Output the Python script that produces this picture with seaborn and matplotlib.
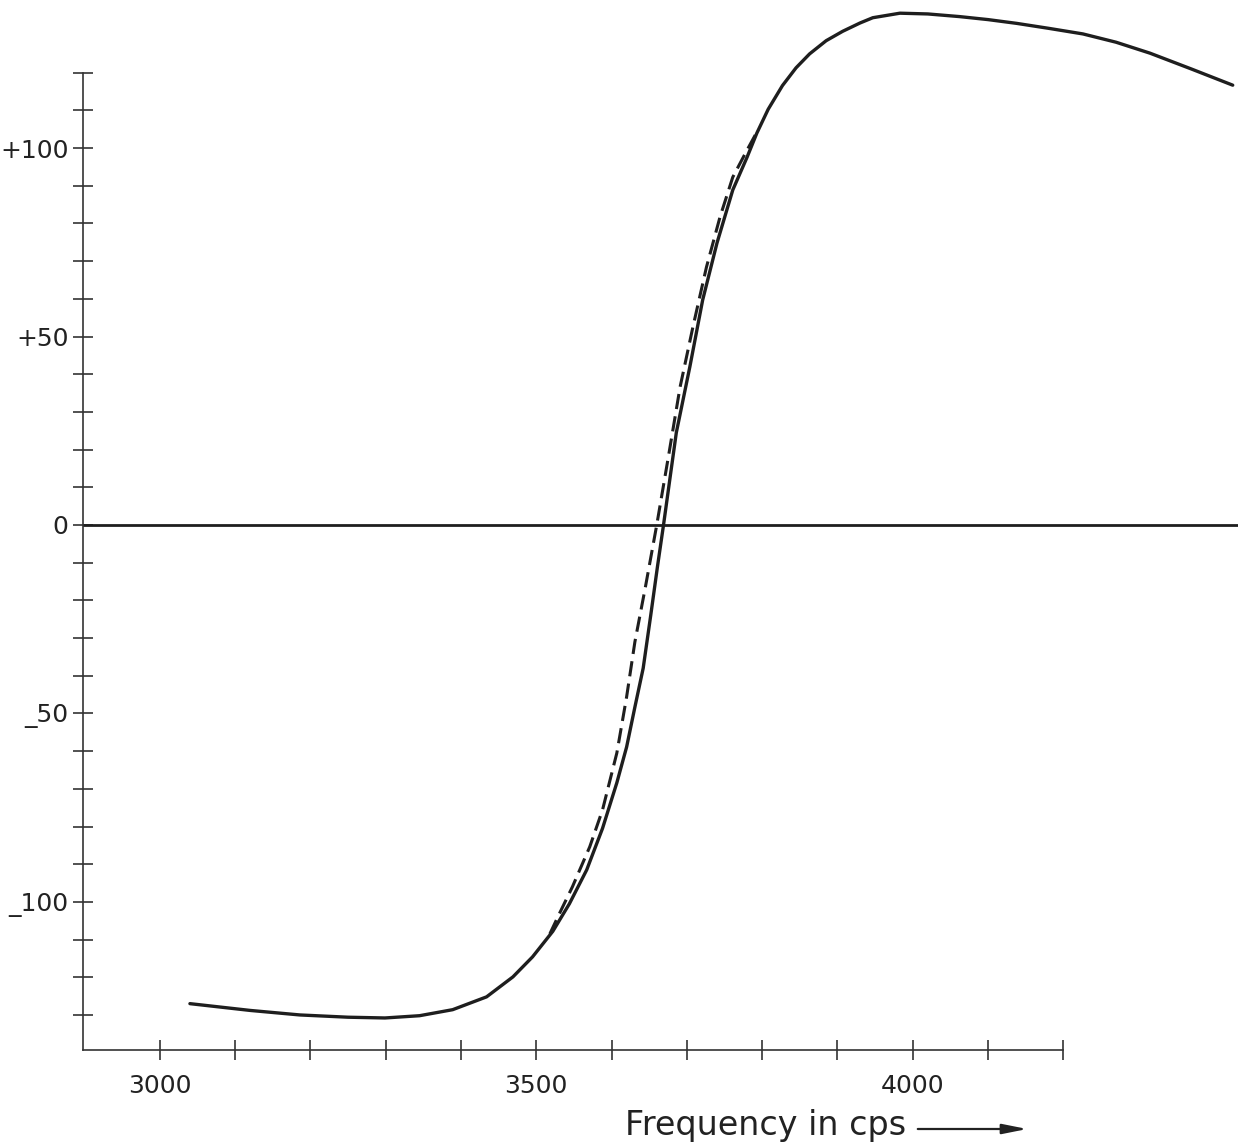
import numpy as np
import pandas as pd
import matplotlib
matplotlib.use("Agg")
import matplotlib.pyplot as plt
import seaborn as sns

# Measured curve (solid)
freq_meas = [3040, 3120, 3186, 3250, 3299, 3345, 3389, 3434, 3469, 3495, 3522, 3544,
             3567, 3588, 3607, 3620, 3631, 3642, 3652, 3661, 3669, 3678, 3686, 3704,
             3721, 3740, 3761, 3780, 3793, 3808, 3827, 3845, 3863, 3885, 3907, 3930,
             3947, 3983, 4020, 4062, 4100, 4138, 4180, 4226, 4270, 4315, 4370, 4425]
val_meas = [-127.0, -128.8, -130.0, -130.6, -130.8, -130.2, -128.6, -125.2, -119.9, -114.6,
            -107.8, -100.5, -91.5, -80.5, -68.4, -58.9, -48.3, -38.0, -24.0, -11.0,
            0.0, 13.0, 24.5, 42.0, 59.7, 74.8, 88.9, 97.6, 104.0, 110.3,
            116.6, 121.3, 125.0, 128.5, 131.0, 133.2, 134.6, 135.8, 135.6, 134.9,
            134.1, 133.1, 131.8, 130.3, 128.1, 125.2, 121.0, 116.7]

# Calculated curve (dashed)
freq_calc = [3518, 3531, 3548, 3571, 3588, 3607, 3620, 3631, 3645, 3660, 3677, 3691,
             3708, 3726, 3744, 3761, 3780, 3795]
val_calc = [-108.5, -103.0, -96.0, -85.4, -75.6, -60.5, -45.6, -31.0, -16.4, 0.0,
            19.9, 36.6, 52.5, 68.4, 81.7, 92.3, 99.5, 105.0]

y_ticks = list(range(-130, 121, 10))
y_labels = {100: "+100", 50: "+50", 0: "0", -50: "_50", -100: "_100"}
x_ticks = list(range(3000, 4201, 100))
x_labels = {3000: "3000", 3500: "3500", 4000: "4000"}
x_title = "Frequency in cps"

sns.set_style("ticks")
plt.rcParams['font.family'] = ['DejaVu Sans']

fig = plt.figure(figsize=(12.38, 11.46), dpi=100)
ax = fig.add_axes([83 / 1238, 1 - 1050 / 1146, 1 - 83 / 1238, 1050 / 1146])

ink = "#1e1e1e"
df_m = pd.DataFrame({"f": freq_meas, "v": val_meas})
df_c = pd.DataFrame({"f": freq_calc, "v": val_calc})
sns.lineplot(data=df_m, x="f", y="v", ax=ax, color=ink, lw=2.4, sort=False)
sns.lineplot(data=df_c, x="f", y="v", ax=ax, color=ink, lw=2.2, sort=False,
             linestyle=(0, (5.0, 2.4)))
ax.axhline(0, color=ink, lw=2.0)

ax.set_xlim(2898, 4432)
ax.set_ylim(-139.3, 139.3)

for s in ["top", "right"]:
    ax.spines[s].set_visible(False)
ax.spines["left"].set_bounds(-139.3, 120)
ax.spines["bottom"].set_bounds(2898, 4200)
for s in ["left", "bottom"]:
    ax.spines[s].set_linewidth(1.2)
    ax.spines[s].set_color("#333333")

ax.set_yticks(y_ticks)
ax.set_yticklabels([y_labels.get(t, "") for t in y_ticks])
ax.set_xticks(x_ticks)
ax.set_xticklabels([x_labels.get(t, "") for t in x_ticks])
ax.tick_params(axis="both", direction="inout", length=15, width=1.2, color="#333333",
               labelsize=18, labelcolor="#222222")
ax.tick_params(axis="y", pad=3)
ax.tick_params(axis="x", pad=10)
ax.set_xlabel("")
ax.set_ylabel("")

fig.text(625 / 1238, 1 - 1125 / 1146, x_title, fontsize=24, color="#222222",
         ha="left", va="center")
ax.annotate("", xy=(1030 / 1238, 1 - 1129 / 1146), xytext=(915 / 1238, 1 - 1129 / 1146),
            xycoords="figure fraction", textcoords="figure fraction",
            arrowprops=dict(arrowstyle="-|>,head_length=1.5,head_width=0.3",
                            color="#222222", lw=1.6))

fig.savefig("out.png", dpi=100, facecolor="white")
